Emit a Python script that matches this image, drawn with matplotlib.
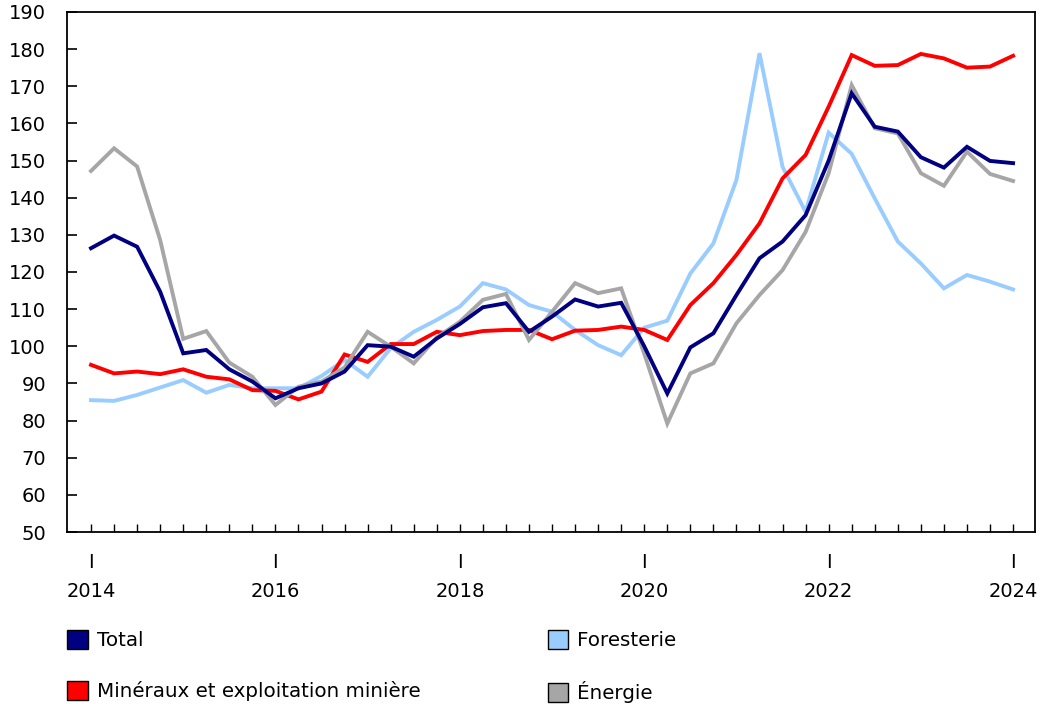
import numpy as np
import matplotlib
matplotlib.use("Agg")
import matplotlib.pyplot as plt
from matplotlib.patches import Patch

plt.rcParams['font.family'] = ['DejaVu Sans']

# trimestres 2014 T1 .. 2024 T1
years = [2014, 2016, 2018, 2020, 2022, 2024]
n_quarters = 41

total = [126.4, 129.8, 126.8, 114.7, 98.1, 99.0, 93.8, 90.5, 86.0, 88.7,
         90.0, 93.2, 100.3, 99.9, 97.2, 102.1, 106.0, 110.5, 111.6, 103.9,
         108.0, 112.6, 110.7, 111.7, 100.0, 87.3, 99.7, 103.5, 113.8, 123.7,
         128.2, 135.3, 150.0, 168.1, 159.1, 157.8, 150.9, 148.1, 153.7, 149.9,
         149.3]
foresterie = [85.5, 85.3, 86.9, 88.9, 90.9, 87.5, 89.6, 88.7, 88.7, 88.7,
              92.0, 96.3, 91.8, 99.5, 103.9, 107.1, 110.7, 117.0, 115.3, 111.1,
              109.3, 104.4, 100.3, 97.6, 105.0, 106.9, 119.6, 127.7, 144.8, 178.9,
              148.3, 136.2, 157.5, 151.8, 139.8, 128.2, 122.3, 115.6, 119.2, 117.4,
              115.3]
mineraux = [95.0, 92.7, 93.2, 92.5, 93.8, 91.8, 91.1, 88.2, 88.0, 85.7,
            87.8, 97.8, 95.8, 100.6, 100.6, 103.9, 103.0, 104.1, 104.4, 104.4,
            101.9, 104.2, 104.4, 105.3, 104.4, 101.7, 111.1, 117.0, 124.6, 133.1,
            145.2, 151.5, 164.5, 178.4, 175.5, 175.7, 178.7, 177.5, 175.0, 175.3,
            178.2]
energie = [147.2, 153.3, 148.4, 128.6, 102.0, 104.1, 95.6, 91.8, 84.2, 89.1,
           90.5, 94.3, 103.9, 99.9, 95.4, 102.4, 106.6, 112.5, 114.1, 101.7,
           109.3, 117.0, 114.3, 115.6, 98.0, 79.2, 92.7, 95.4, 106.2, 113.8,
           120.5, 130.8, 146.6, 170.3, 158.7, 157.3, 146.6, 143.2, 152.4, 146.4,
           144.5]

labels = ["Total", "Minéraux et exploitation minière", "Foresterie", "Énergie"]
colors = ["#000080", "#FF0000", "#99CCFF", "#A6A6A6"]

x = np.arange(n_quarters)

fig = plt.figure(figsize=(10.41, 7.04), dpi=100)
ax = fig.add_axes([0.0644, 0.2443, 0.9298, 0.7387])

# draw order: foresterie under, then others
ax.plot(x, foresterie, color=colors[2], lw=2.8, solid_joinstyle='miter')
ax.plot(x, mineraux, color=colors[1], lw=2.8, solid_joinstyle='miter')
ax.plot(x, energie, color=colors[3], lw=2.8, solid_joinstyle='miter')
ax.plot(x, total, color=colors[0], lw=2.8, solid_joinstyle='miter')

ax.set_xlim(-1.04, 40.95)
ax.set_ylim(50, 190)
ax.set_yticks(np.arange(50, 191, 10))

xt_labels = []
for i in range(n_quarters):
    if i % 8 == 0:
        xt_labels.append("I\n" + str(years[i // 8]))
    else:
        xt_labels.append("")
ax.set_xticks(x)
ax.set_xticklabels(xt_labels, linespacing=1.7)

ax.tick_params(axis='x', direction='in', length=6, width=1, pad=15, labelsize=14)
ax.tick_params(axis='y', direction='in', length=7, width=1.2, pad=15, labelsize=14)
for s in ax.spines.values():
    s.set_linewidth(1.3)

handles = [Patch(facecolor=c, edgecolor='black', linewidth=1) for c in colors]
fig.legend(handles, labels, loc='upper left', bbox_to_anchor=(0.0644, 0.1045),
           ncol=2, frameon=False, fontsize=14.3, handlelength=1.05, handleheight=1.05,
           handletextpad=0.45, columnspacing=6.4, labelspacing=1.55,
           borderaxespad=0, borderpad=0)

fig.savefig("out.png", dpi=100)
